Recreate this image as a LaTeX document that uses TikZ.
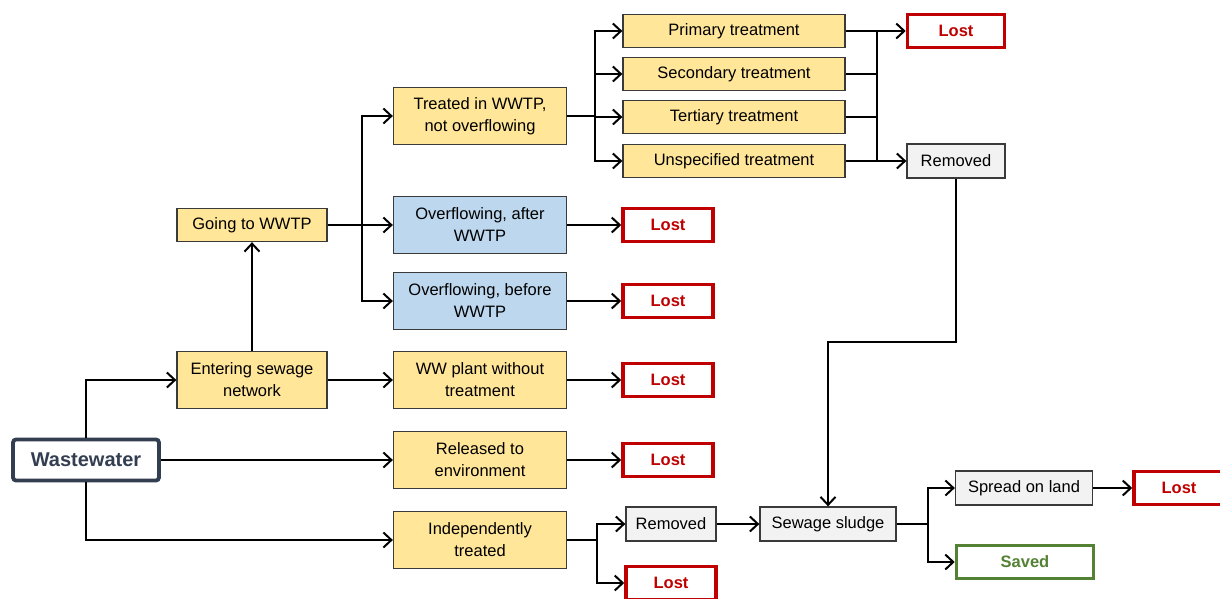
\documentclass[tikz,border=0pt]{standalone}
\usepackage{fontspec}
\setmainfont{Liberation Sans}
\usetikzlibrary{arrows.meta,calc}
\definecolor{wwdark}{HTML}{333F50}
\definecolor{lostred}{HTML}{C00000}
\definecolor{savedgreen}{HTML}{548235}
\definecolor{boxyellow}{HTML}{FFE699}
\definecolor{boxblue}{HTML}{BDD7EE}
\definecolor{boxgrey}{HTML}{F2F2F2}
\definecolor{boxline}{HTML}{3A3A3A}
\tikzset{
  every node/.style = {font=\fontsize{16.5}{22}\selectfont, inner sep=0pt, align=center},
  stage/.style      = {draw=boxline, line width=1.3pt, fill=boxyellow, minimum width=173pt, minimum height=57pt},
  overflow/.style   = {stage, fill=boxblue},
  treat/.style      = {stage, minimum width=222pt, minimum height=33pt},
  fate/.style       = {draw=boxline, line width=1.3pt, fill=boxgrey, minimum height=34pt},
  lost/.style       = {draw=lostred, line width=3.6pt, fill=white, text=lostred, font=\fontsize{16.5}{19}\selectfont\bfseries,
                       minimum width=90pt, minimum height=33pt},
  saved/.style      = {lost, draw=savedgreen, text=savedgreen, minimum width=137pt},
  sig/.style        = {-{Straight Barb[length=8pt,width=15pt]}, line width=2pt},
  wire/.style       = {line width=2pt},
}

\begin{document}
\begin{tikzpicture}[x=1pt, y=-1pt]
  \path[use as bounding box, clip] (0,0) rectangle (1220,598);

  % sources
  \node[draw=wwdark, line width=3.8pt, rounded corners=3pt, fill=white, text=wwdark,
        font=\fontsize{20}{24}\selectfont\bfseries, minimum width=146pt, minimum height=41pt]
        (ww) at (86,460) {Wastewater};
  \node[stage, minimum width=150pt] (enter) at (252,380) {Entering sewage\\network};
  \node[stage, minimum width=150pt, minimum height=33pt] (going) at (252,225) {Going to WWTP};

  % second column
  \node[stage] (treated) at (480,116) {Treated in WWTP,\\not overflowing};
  \node[overflow] (ovafter) at (480,225) {Overflowing, after\\WWTP};
  \node[overflow] (ovbefore) at (480,301) {Overflowing, before\\WWTP};
  \node[stage] (plant) at (480,380) {WW plant without\\treatment};
  \node[stage] (released) at (480,460) {Released to\\environment};
  \node[stage] (indep) at (480,540) {Independently\\treated};

  \node[lost] (lostA) at (668,225) {Lost};
  \node[lost] (lostB) at (668,301) {Lost};
  \node[lost] (lostC) at (668,380) {Lost};
  \node[lost] (lostD) at (668,460) {Lost};

  % treatment levels
  \node[treat] (prim) at (734,31) {Primary treatment};
  \node[treat] (second) at (734,74) {Secondary treatment};
  \node[treat] (tert) at (734,117) {Tertiary treatment};
  \node[treat] (unspec) at (734,161) {Unspecified treatment};

  \node[lost, minimum width=97pt] (lostT) at (956,31) {Lost};
  \node[fate, minimum width=98pt] (remT) at (956,161) {Removed};

  % sludge path
  \node[fate, minimum width=90pt] (remB) at (671,524) {Removed};
  \node[lost] (lostE) at (671,583) {Lost};
  \node[fate, minimum width=136pt] (sludge) at (828,524) {Sewage sludge};
  \node[fate, minimum width=137pt] (spread) at (1024,488) {Spread on land};
  \node[lost] (lostR) at (1179,488) {Lost};
  \node[saved] (saved) at (1025,562) {Saved};

  \coordinate (sludgebend) at (828,342);

  % connectors
  \draw[sig] (ww.north) |- (enter.west);
  \draw[sig] (ww.east) -- (released.west);
  \draw[sig] (ww.south) |- (indep.west);
  \draw[sig] (enter.north) -- (going.south);
  \draw[sig] (enter.east) -- (plant.west);

  \draw[sig] (going.east) -- ++(34,0) |- (treated.west);
  \draw[sig] (going.east) -- (ovafter.west);
  \draw[sig] (going.east) -- ++(34,0) |- (ovbefore.west);

  \draw[sig] (ovafter.east) -- (lostA.west);
  \draw[sig] (ovbefore.east) -- (lostB.west);
  \draw[sig] (plant.east) -- (lostC.west);
  \draw[sig] (released.east) -- (lostD.west);

  \foreach \lvl in {prim,second,tert,unspec}
    \draw[sig] (treated.east) -- ++(28,0) |- (\lvl.west);

  \draw[sig] (prim.east) -- (lostT.west);
  \draw[sig] (unspec.east) -- (remT.west);
  \draw[wire] (second.east) -- ++(31,0);
  \draw[wire] (tert.east) -- ++(31,0);
  \draw[wire] ($(prim.east)+(31,0)$) -- ($(unspec.east)+(31,0)$);

  \draw[sig] (remT.south) |- (sludgebend) -- (sludge.north);

  \draw[sig] (indep.east) -- ++(30,0) |- (remB.west);
  \draw[sig] (indep.east) -- ++(30,0) |- (lostE.west);
  \draw[sig] (remB.east) -- (sludge.west);

  \draw[sig] (sludge.east) -- ++(31,0) |- (spread.west);
  \draw[sig] (sludge.east) -- ++(31,0) |- (saved.west);
  \draw[sig] (spread.east) -- (lostR.west);
\end{tikzpicture}
\end{document}
